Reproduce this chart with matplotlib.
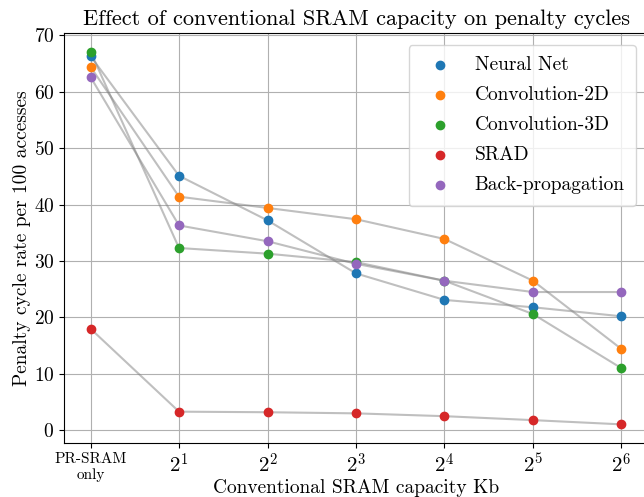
import numpy as np
import matplotlib
matplotlib.use('Agg')
from matplotlib import pyplot as plt

plt.rcParams['font.family'] = 'serif'
plt.rcParams['font.serif'] = ['cmr10']
plt.rcParams['mathtext.fontset'] = 'cm'
plt.rcParams['axes.formatter.use_mathtext'] = True

x_labels = ['PR-SRAM\nonly', '$2^1$', '$2^2$', '$2^3$', '$2^4$', '$2^5$', '$2^6$']
names = ['Neural Net', 'Convolution-2D', 'Convolution-3D', 'SRAD', 'Back-propagation']
neural_net = [66.3, 45.1, 37.2, 27.8, 23.1, 21.8, 20.2]
conv_2d = [64.4, 41.4, 39.4, 37.4, 33.9, 26.5, 14.4]
conv_3d = [67.1, 32.3, 31.3, 29.8, 26.5, 20.6, 11.0]
srad = [18.0, 3.3, 3.2, 3.0, 2.5, 1.8, 1.05]
backprop = [62.6, 36.3, 33.5, 29.5, 26.5, 24.5, 24.5]
series = [neural_net, conv_2d, conv_3d, srad, backprop]

x = np.arange(len(x_labels))

fig = plt.figure(figsize=(6.44, 4.97), dpi=100)
ax = fig.add_axes([64/644, (497-443)/497, 584/644, 410/497])

for s in series:
    ax.plot(x, s, color='gray', alpha=0.5, lw=1.5, zorder=2)
for s, n in zip(series, names):
    ax.scatter(x, s, label=n, zorder=3)

ax.grid(True, zorder=0)
ax.set_axisbelow(True)
ax.set_xlim(-0.3, 6.3)
ax.set_xticks(x)
ax.set_xticklabels(x_labels)
for i, t in enumerate(ax.get_xticklabels()):
    t.set_fontsize(11 if i == 0 else 15)
ax.tick_params(axis='y', labelsize=14)
ax.set_title('Effect of conventional SRAM capacity on penalty cycles', fontsize=16)
ax.set_xlabel('Conventional SRAM capacity Kb', fontsize=14, labelpad=-2.5)
ax.set_ylabel('Penalty cycle rate per 100 accesses', fontsize=14, labelpad=2)
ax.legend(loc='upper right', fontsize=14, labelspacing=0.62, borderpad=0.6,
          borderaxespad=0.6)

fig.savefig('out.png', dpi=100)
